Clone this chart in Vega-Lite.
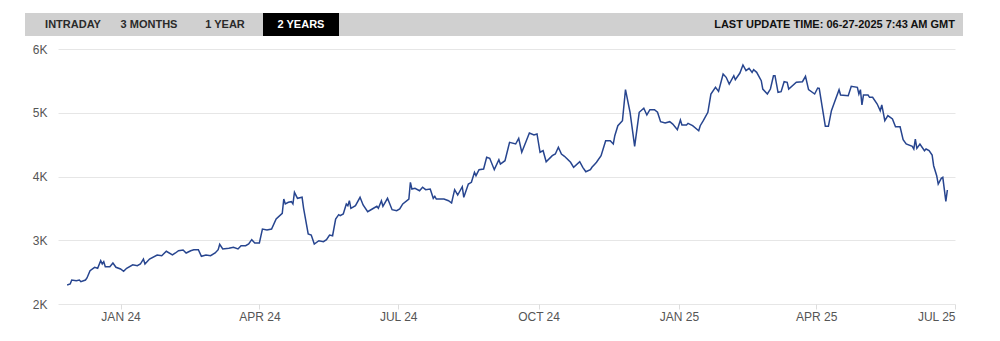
{
  "$schema": "https://vega.github.io/schema/vega-lite/v6.json",
  "padding": {"left": 25, "top": 13, "right": 0, "bottom": 0},
  "config": {"view": {"stroke": null}, "font": "Liberation Sans"},
  "spacing": 7,
  "vconcat": [
    {
      "width": 897,
      "height": 23,
      "layer": [
        {
          "data": {"values": [{"bar": "header"}]},
          "mark": {"type": "rect", "color": "#d0d0d0"},
          "encoding": {
            "x": {"datum": 0, "type": "quantitative", "scale": {"domain": [0, 1], "range": [-33, 905], "nice": false}, "axis": null},
            "x2": {"datum": 1}
          }
        },
        {
          "data": {"values": [{"tab": "INTRADAY"}, {"tab": "3 MONTHS"}, {"tab": "1 YEAR"}, {"tab": "2 YEARS"}]},
          "transform": [{"filter": "datum.tab === '2 YEARS'"}],
          "mark": {"type": "rect", "color": "#000000"},
          "encoding": {
            "x": {"field": "tab", "type": "nominal", "sort": null, "scale": {"domain": ["INTRADAY", "3 MONTHS", "1 YEAR", "2 YEARS"], "range": [-23, 281], "paddingInner": 0, "paddingOuter": 0}, "axis": null}
          }
        },
        {
          "data": {"values": [{"tab": "INTRADAY"}, {"tab": "3 MONTHS"}, {"tab": "1 YEAR"}, {"tab": "2 YEARS"}]},
          "mark": {"type": "text", "fontWeight": "bold", "fontSize": 11, "font": "Liberation Sans"},
          "encoding": {
            "x": {"field": "tab", "type": "nominal", "sort": null, "scale": {"domain": ["INTRADAY", "3 MONTHS", "1 YEAR", "2 YEARS"], "range": [-23, 281], "paddingInner": 0, "paddingOuter": 0}, "axis": null},
            "text": {"field": "tab"},
            "color": {"condition": {"test": "datum.tab === '2 YEARS'", "value": "#ffffff"}, "value": "#2a2a2a"}
          }
        },
        {
          "data": {"values": [{"label": "LAST UPDATE TIME: 06-27-2025 7:43 AM GMT"}]},
          "mark": {"type": "text", "align": "right", "fontWeight": "bold", "fontSize": 11, "font": "Liberation Sans", "color": "#111111"},
          "encoding": {
            "x": {"datum": 1, "type": "quantitative", "scale": {"domain": [0, 1], "nice": false}, "axis": null},
            "text": {"field": "label"}
          }
        }
      ],
      "resolve": {"scale": {"x": "independent"}}
    },
    {
      "width": 897,
      "height": 255,
      "data": {"values": [
        {"date": "2023-11-27", "close": 2298},
        {"date": "2023-11-29", "close": 2314},
        {"date": "2023-11-30", "close": 2376},
        {"date": "2023-12-03", "close": 2365},
        {"date": "2023-12-05", "close": 2376},
        {"date": "2023-12-06", "close": 2350},
        {"date": "2023-12-09", "close": 2376},
        {"date": "2023-12-10", "close": 2408},
        {"date": "2023-12-12", "close": 2522},
        {"date": "2023-12-15", "close": 2576},
        {"date": "2023-12-17", "close": 2560},
        {"date": "2023-12-19", "close": 2679},
        {"date": "2023-12-20", "close": 2627},
        {"date": "2023-12-21", "close": 2664},
        {"date": "2023-12-22", "close": 2585},
        {"date": "2023-12-25", "close": 2585},
        {"date": "2023-12-27", "close": 2643},
        {"date": "2023-12-29", "close": 2576},
        {"date": "2024-01-01", "close": 2549},
        {"date": "2024-01-03", "close": 2513},
        {"date": "2024-01-05", "close": 2560},
        {"date": "2024-01-09", "close": 2616},
        {"date": "2024-01-12", "close": 2601},
        {"date": "2024-01-14", "close": 2627},
        {"date": "2024-01-16", "close": 2706},
        {"date": "2024-01-17", "close": 2627},
        {"date": "2024-01-20", "close": 2706},
        {"date": "2024-01-25", "close": 2769},
        {"date": "2024-01-28", "close": 2758},
        {"date": "2024-01-31", "close": 2827},
        {"date": "2024-02-04", "close": 2769},
        {"date": "2024-02-06", "close": 2800},
        {"date": "2024-02-08", "close": 2836},
        {"date": "2024-02-11", "close": 2847},
        {"date": "2024-02-13", "close": 2800},
        {"date": "2024-02-16", "close": 2836},
        {"date": "2024-02-18", "close": 2852},
        {"date": "2024-02-21", "close": 2852},
        {"date": "2024-02-23", "close": 2748},
        {"date": "2024-02-26", "close": 2769},
        {"date": "2024-02-29", "close": 2758},
        {"date": "2024-03-03", "close": 2800},
        {"date": "2024-03-05", "close": 2852},
        {"date": "2024-03-06", "close": 2936},
        {"date": "2024-03-08", "close": 2863},
        {"date": "2024-03-12", "close": 2874},
        {"date": "2024-03-15", "close": 2889},
        {"date": "2024-03-18", "close": 2863},
        {"date": "2024-03-20", "close": 2914},
        {"date": "2024-03-23", "close": 2914},
        {"date": "2024-03-25", "close": 2941},
        {"date": "2024-03-27", "close": 3009},
        {"date": "2024-03-29", "close": 2957},
        {"date": "2024-04-01", "close": 2957},
        {"date": "2024-04-03", "close": 3176},
        {"date": "2024-04-06", "close": 3161},
        {"date": "2024-04-09", "close": 3176},
        {"date": "2024-04-12", "close": 3333},
        {"date": "2024-04-16", "close": 3423},
        {"date": "2024-04-17", "close": 3647},
        {"date": "2024-04-18", "close": 3569},
        {"date": "2024-04-20", "close": 3595},
        {"date": "2024-04-22", "close": 3605},
        {"date": "2024-04-23", "close": 3569},
        {"date": "2024-04-24", "close": 3752},
        {"date": "2024-04-26", "close": 3658},
        {"date": "2024-04-29", "close": 3674},
        {"date": "2024-04-30", "close": 3501},
        {"date": "2024-05-03", "close": 3098},
        {"date": "2024-05-05", "close": 3082},
        {"date": "2024-05-07", "close": 2941},
        {"date": "2024-05-10", "close": 2993},
        {"date": "2024-05-13", "close": 2977},
        {"date": "2024-05-15", "close": 3009},
        {"date": "2024-05-17", "close": 3082},
        {"date": "2024-05-19", "close": 3071},
        {"date": "2024-05-21", "close": 3333},
        {"date": "2024-05-23", "close": 3401},
        {"date": "2024-05-24", "close": 3385},
        {"date": "2024-05-26", "close": 3412},
        {"date": "2024-05-28", "close": 3569},
        {"date": "2024-05-29", "close": 3542},
        {"date": "2024-05-30", "close": 3620},
        {"date": "2024-05-31", "close": 3501},
        {"date": "2024-06-03", "close": 3542},
        {"date": "2024-06-06", "close": 3674},
        {"date": "2024-06-08", "close": 3553},
        {"date": "2024-06-11", "close": 3448},
        {"date": "2024-06-14", "close": 3490},
        {"date": "2024-06-17", "close": 3533},
        {"date": "2024-06-18", "close": 3501},
        {"date": "2024-06-20", "close": 3620},
        {"date": "2024-06-21", "close": 3533},
        {"date": "2024-06-24", "close": 3658},
        {"date": "2024-06-27", "close": 3479},
        {"date": "2024-06-30", "close": 3464},
        {"date": "2024-07-02", "close": 3490},
        {"date": "2024-07-04", "close": 3569},
        {"date": "2024-07-08", "close": 3647},
        {"date": "2024-07-09", "close": 3909},
        {"date": "2024-07-10", "close": 3804},
        {"date": "2024-07-12", "close": 3815},
        {"date": "2024-07-15", "close": 3777},
        {"date": "2024-07-17", "close": 3831},
        {"date": "2024-07-19", "close": 3793},
        {"date": "2024-07-22", "close": 3804},
        {"date": "2024-07-24", "close": 3658},
        {"date": "2024-07-25", "close": 3689},
        {"date": "2024-07-26", "close": 3647},
        {"date": "2024-07-31", "close": 3647},
        {"date": "2024-08-03", "close": 3620},
        {"date": "2024-08-05", "close": 3584},
        {"date": "2024-08-07", "close": 3793},
        {"date": "2024-08-09", "close": 3710},
        {"date": "2024-08-12", "close": 3840},
        {"date": "2024-08-13", "close": 3674},
        {"date": "2024-08-16", "close": 3882},
        {"date": "2024-08-18", "close": 3909},
        {"date": "2024-08-20", "close": 4066},
        {"date": "2024-08-21", "close": 4013},
        {"date": "2024-08-23", "close": 4107},
        {"date": "2024-08-26", "close": 4118},
        {"date": "2024-08-28", "close": 4301},
        {"date": "2024-08-30", "close": 4285},
        {"date": "2024-09-02", "close": 4107},
        {"date": "2024-09-05", "close": 4264},
        {"date": "2024-09-06", "close": 4196},
        {"date": "2024-09-09", "close": 4248},
        {"date": "2024-09-12", "close": 4536},
        {"date": "2024-09-16", "close": 4510},
        {"date": "2024-09-18", "close": 4599},
        {"date": "2024-09-20", "close": 4380},
        {"date": "2024-09-23", "close": 4562},
        {"date": "2024-09-25", "close": 4682},
        {"date": "2024-09-28", "close": 4651},
        {"date": "2024-09-30", "close": 4667},
        {"date": "2024-10-02", "close": 4380},
        {"date": "2024-10-04", "close": 4405},
        {"date": "2024-10-06", "close": 4232},
        {"date": "2024-10-10", "close": 4326},
        {"date": "2024-10-12", "close": 4353},
        {"date": "2024-10-14", "close": 4458},
        {"date": "2024-10-16", "close": 4353},
        {"date": "2024-10-18", "close": 4317},
        {"date": "2024-10-22", "close": 4223},
        {"date": "2024-10-24", "close": 4144},
        {"date": "2024-10-28", "close": 4232},
        {"date": "2024-10-30", "close": 4144},
        {"date": "2024-11-01", "close": 4075},
        {"date": "2024-11-04", "close": 4107},
        {"date": "2024-11-05", "close": 4144},
        {"date": "2024-11-07", "close": 4196},
        {"date": "2024-11-08", "close": 4223},
        {"date": "2024-11-11", "close": 4326},
        {"date": "2024-11-14", "close": 4562},
        {"date": "2024-11-17", "close": 4562},
        {"date": "2024-11-19", "close": 4510},
        {"date": "2024-11-20", "close": 4640},
        {"date": "2024-11-22", "close": 4797},
        {"date": "2024-11-25", "close": 4875},
        {"date": "2024-11-27", "close": 5362},
        {"date": "2024-11-30", "close": 5007},
        {"date": "2024-12-03", "close": 4474},
        {"date": "2024-12-06", "close": 5007},
        {"date": "2024-12-09", "close": 5070},
        {"date": "2024-12-11", "close": 4965},
        {"date": "2024-12-13", "close": 5048},
        {"date": "2024-12-16", "close": 5048},
        {"date": "2024-12-18", "close": 5007},
        {"date": "2024-12-20", "close": 4860},
        {"date": "2024-12-23", "close": 4839},
        {"date": "2024-12-26", "close": 4860},
        {"date": "2024-12-28", "close": 4823},
        {"date": "2024-12-31", "close": 4734},
        {"date": "2025-01-02", "close": 4886},
        {"date": "2025-01-03", "close": 4808},
        {"date": "2025-01-06", "close": 4808},
        {"date": "2025-01-07", "close": 4834},
        {"date": "2025-01-10", "close": 4797},
        {"date": "2025-01-14", "close": 4718},
        {"date": "2025-01-15", "close": 4797},
        {"date": "2025-01-17", "close": 4875},
        {"date": "2025-01-20", "close": 5007},
        {"date": "2025-01-22", "close": 5294},
        {"date": "2025-01-25", "close": 5399},
        {"date": "2025-01-27", "close": 5336},
        {"date": "2025-01-30", "close": 5608},
        {"date": "2025-02-01", "close": 5556},
        {"date": "2025-02-03", "close": 5451},
        {"date": "2025-02-06", "close": 5581},
        {"date": "2025-02-07", "close": 5518},
        {"date": "2025-02-10", "close": 5623},
        {"date": "2025-02-12", "close": 5749},
        {"date": "2025-02-14", "close": 5660},
        {"date": "2025-02-16", "close": 5697},
        {"date": "2025-02-18", "close": 5634},
        {"date": "2025-02-19", "close": 5675},
        {"date": "2025-02-21", "close": 5634},
        {"date": "2025-02-24", "close": 5503},
        {"date": "2025-02-25", "close": 5372},
        {"date": "2025-02-28", "close": 5294},
        {"date": "2025-03-02", "close": 5372},
        {"date": "2025-03-04", "close": 5581},
        {"date": "2025-03-05", "close": 5581},
        {"date": "2025-03-07", "close": 5321},
        {"date": "2025-03-09", "close": 5330},
        {"date": "2025-03-11", "close": 5487},
        {"date": "2025-03-13", "close": 5478},
        {"date": "2025-03-14", "close": 5372},
        {"date": "2025-03-19", "close": 5478},
        {"date": "2025-03-23", "close": 5487},
        {"date": "2025-03-25", "close": 5572},
        {"date": "2025-03-27", "close": 5362},
        {"date": "2025-03-31", "close": 5294},
        {"date": "2025-04-02", "close": 5388},
        {"date": "2025-04-03", "close": 5383},
        {"date": "2025-04-05", "close": 5085},
        {"date": "2025-04-07", "close": 4787},
        {"date": "2025-04-09", "close": 4787},
        {"date": "2025-04-11", "close": 5032},
        {"date": "2025-04-13", "close": 5164},
        {"date": "2025-04-16", "close": 5362},
        {"date": "2025-04-17", "close": 5278},
        {"date": "2025-04-22", "close": 5267},
        {"date": "2025-04-24", "close": 5415},
        {"date": "2025-04-28", "close": 5399},
        {"date": "2025-04-29", "close": 5294},
        {"date": "2025-04-30", "close": 5362},
        {"date": "2025-05-01", "close": 5122},
        {"date": "2025-05-02", "close": 5278},
        {"date": "2025-05-05", "close": 5278},
        {"date": "2025-05-06", "close": 5242},
        {"date": "2025-05-08", "close": 5242},
        {"date": "2025-05-11", "close": 5137},
        {"date": "2025-05-13", "close": 5032},
        {"date": "2025-05-14", "close": 5122},
        {"date": "2025-05-16", "close": 4875},
        {"date": "2025-05-18", "close": 4954},
        {"date": "2025-05-21", "close": 4902},
        {"date": "2025-05-23", "close": 4781},
        {"date": "2025-05-26", "close": 4781},
        {"date": "2025-05-28", "close": 4577},
        {"date": "2025-05-30", "close": 4510},
        {"date": "2025-06-03", "close": 4474},
        {"date": "2025-06-04", "close": 4431},
        {"date": "2025-06-05", "close": 4588},
        {"date": "2025-06-06", "close": 4442},
        {"date": "2025-06-08", "close": 4510},
        {"date": "2025-06-11", "close": 4405},
        {"date": "2025-06-12", "close": 4431},
        {"date": "2025-06-14", "close": 4405},
        {"date": "2025-06-16", "close": 4337},
        {"date": "2025-06-17", "close": 4169},
        {"date": "2025-06-19", "close": 4013},
        {"date": "2025-06-20", "close": 3882},
        {"date": "2025-06-22", "close": 3972},
        {"date": "2025-06-23", "close": 3987},
        {"date": "2025-06-25", "close": 3611},
        {"date": "2025-06-26", "close": 3788}
      ]},
      "mark": {"type": "line", "color": "#27458f", "strokeWidth": 1.5},
      "encoding": {
        "x": {
          "field": "date",
          "type": "temporal",
          "scale": {"type": "utc", "domain": [{"year": 2023, "month": 11, "date": 21, "utc": true}, {"year": 2025, "month": 7, "date": 1, "utc": true}], "nice": false},
          "axis": {
            "title": null,
            "values": [
              {"year": 2024, "month": 1, "date": 1, "utc": true},
              {"year": 2024, "month": 4, "date": 1, "utc": true},
              {"year": 2024, "month": 7, "date": 1, "utc": true},
              {"year": 2024, "month": 10, "date": 1, "utc": true},
              {"year": 2025, "month": 1, "date": 1, "utc": true},
              {"year": 2025, "month": 4, "date": 1, "utc": true},
              {"year": 2025, "month": 7, "date": 1, "utc": true}
            ],
            "labelExpr": "upper(utcFormat(datum.value, '%b %y'))",
            "labelFlush": true,
            "grid": false,
            "domain": false,
            "ticks": true,
            "tickSize": 5,
            "tickColor": "#dddddd",
            "labelColor": "#555555",
            "labelFont": "Liberation Sans",
            "labelFontSize": 12,
            "labelPadding": 2
          }
        },
        "y": {
          "field": "close",
          "type": "quantitative",
          "scale": {"domain": [2000, 6000], "nice": false, "zero": false},
          "axis": {
            "title": null,
            "values": [2000, 3000, 4000, 5000, 6000],
            "labelExpr": "(datum.value / 1000) + 'K'",
            "grid": true,
            "gridColor": "#e6e6e6",
            "domain": false,
            "ticks": false,
            "labelPadding": 11,
            "labelColor": "#555555",
            "labelFont": "Liberation Sans",
            "labelFontSize": 12
          }
        }
      }
    }
  ]
}
